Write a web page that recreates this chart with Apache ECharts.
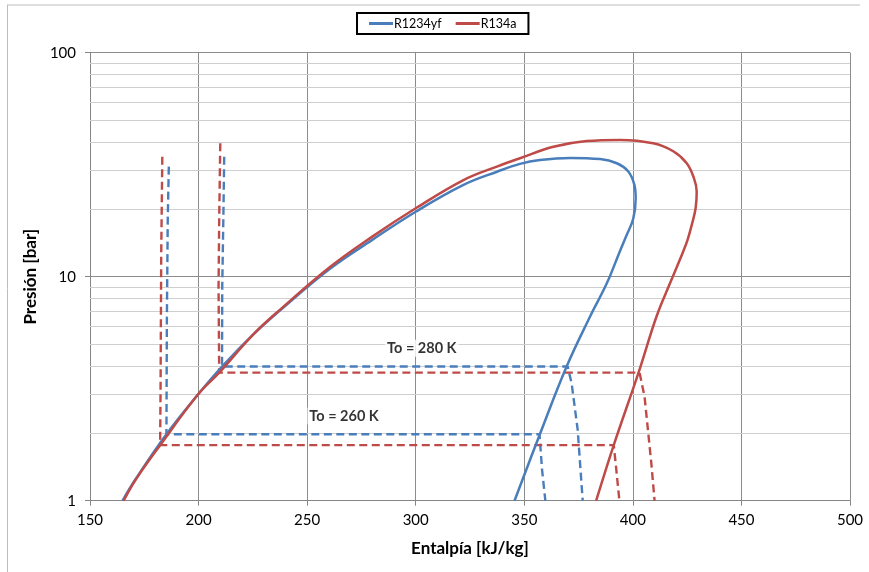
<!DOCTYPE html>
<html><head><meta charset="utf-8">
<script src="https://cdn.jsdelivr.net/npm/echarts@6/dist/echarts.min.js"></script>
<style>html,body{margin:0;padding:0;background:#fff}#c{width:869px;height:572px}</style>
</head><body><div id="c"></div>
<script>
// Saturation domes [enthalpy kJ/kg, pressure bar]
var domeR1234yf = [[165,1],[170.8,1.24],[185.2,1.98],[200,3.0],[210.8,3.97],[225,5.5],[237.7,7.1],[260.8,10.9],[280,14.6],[300,19.5],[322,25.7],[337.7,29.5],[348,31.9],[357.2,33.2],[371.1,33.9],[384.9,33.5],[392.6,32.1],[397.9,29.5],[400.7,25.7],[401.3,22.4],[400.2,18.2],[397.1,15.3],[393.9,12.9],[388,9.34],[380.3,6.64],[369.5,3.97],[357,1.96],[345.5,1]];
var domeR134a = [[165.5,1],[171,1.24],[182.3,1.77],[200,3.0],[209.5,3.73],[225,5.5],[237.7,7.15],[260.8,11.1],[280,15.1],[300,20.2],[322,27.0],[337.7,31.1],[348,33.8],[363.4,38.0],[378.7,40.3],[394.1,40.8],[409.4,39.4],[418.6,36.3],[424.8,32.1],[428.2,27.4],[429.4,24.0],[428.9,20.2],[427.1,17.0],[425.2,14.6],[423.1,12.9],[417.1,9.34],[410.9,6.64],[402.5,3.7],[391.2,1.77],[383.1,1]];
// Cycle lines (dashed)
var yf260 = [[186.3,31],[185.8,17.9],[185.4,6.4],[185.2,1.98],[357,1.98],[358.2,1.37],[359.7,1]];
var a260 = [[183.3,34.3],[182.8,12.7],[182.5,3.2],[182.3,1.77],[391.2,1.77],[392.3,1.4],[393.8,1]];
var yf280 = [[211.8,34.3],[211.4,17.9],[210.9,9],[210.8,3.97],[370,3.97],[371.8,3.34],[374.6,2.07],[376.9,1]];
var a280 = [[210,39.4],[209.5,17.9],[209.2,9],[209.5,3.73],[403.1,3.73],[405.4,2.91],[408.5,1.47],[410,1]];
// Annotations
var notes = [{text:'To = 280 K', coord:[302.8,4.79]},{text:'To = 260 K', coord:[267,2.39]}];
// Axis settings
var xTicks = [150,200,250,300,350,400,450,500];
var minorY = [2,3,4,5,6,7,8,9,20,30,40,50,60,70,80,90];

var FONT = 'Lato, "Open Sans", sans-serif';
var BLUE = '#4A7EBB', RED = '#BE4B48';
var chart = echarts.init(document.getElementById('c'), null, {renderer:'canvas'});
function dashed(name, data, color){
  return {name:name, type:'line', data:data, showSymbol:false, symbol:'none', smooth:false,
    lineStyle:{color:color, width:2.4, type:[8,4.5]}, z:3, silent:true};
}
chart.setOption({
  animation:false,
  backgroundColor:'#fff',
  textStyle:{fontFamily:FONT},
  graphic:[
    {type:'line', shape:{x1:7, y1:5, x2:860, y2:5}, style:{stroke:'#bdbdbd', lineWidth:1}},
    {type:'line', shape:{x1:7.5, y1:5, x2:7.5, y2:572}, style:{stroke:'#bdbdbd', lineWidth:1}}
  ],
  legend:{
    data:['R1234yf','R134a'], left:357, top:13,
    padding:[4,12,4,12], itemGap:14, itemWidth:24, itemHeight:3, icon:'rect',
    borderColor:'#000', borderWidth:2, borderRadius:0,
    textStyle:{fontFamily:FONT, fontSize:12.5, color:'#000', padding:[0,0,0,-4]}
  },
  grid:{left:90, right:19, top:52.7, bottom:71.3, containLabel:false},
  xAxis:{
    type:'value', min:xTicks[0], max:xTicks[xTicks.length-1], interval:50,
    name:'Entalpía [kJ/kg]', nameLocation:'middle', nameGap:39,
    nameTextStyle:{fontFamily:FONT, fontSize:17, fontWeight:'bold', color:'#000'},
    axisLine:{show:true, lineStyle:{color:'#868686', width:1}},
    axisTick:{show:true, length:5, lineStyle:{color:'#868686'}},
    axisLabel:{fontFamily:FONT, fontSize:15, color:'#000', margin:12},
    splitLine:{show:true, lineStyle:{color:'#8c8c8c', width:1}}
  },
  yAxis:{
    type:'log', logBase:10, min:1, max:100,
    name:'Presión [bar]', nameLocation:'middle', nameGap:47, nameRotate:90,
    nameTextStyle:{fontFamily:FONT, fontSize:17, fontWeight:'bold', color:'#000'},
    axisLine:{show:true, lineStyle:{color:'#868686', width:1}},
    axisTick:{show:true, length:5, lineStyle:{color:'#868686'}},
    axisLabel:{fontFamily:FONT, fontSize:15, color:'#000', margin:14},
    splitLine:{show:true, lineStyle:{color:'#8c8c8c', width:1}}
  },
  series:[
    {name:'grid-minor', type:'line', data:[], silent:true, z:1,
      markLine:{silent:true, z:1, symbol:['none','none'], label:{show:false},
        lineStyle:{color:'#cfcfcf', width:1, type:'solid'},
        data:minorY.map(function(v){return {yAxis:v};})}},
    {name:'R1234yf', type:'line', data:domeR1234yf, showSymbol:false, symbol:'none', smooth:0.4,
      lineStyle:{color:BLUE, width:2.5}, itemStyle:{color:BLUE}, z:4, silent:true},
    {name:'R134a', type:'line', data:domeR134a, showSymbol:false, symbol:'none', smooth:0.4,
      lineStyle:{color:RED, width:2.5}, itemStyle:{color:RED}, z:5, silent:true},
    dashed('yf260', yf260, BLUE),
    dashed('a260', a260, RED),
    dashed('yf280', yf280, BLUE),
    dashed('a280', a280, RED),
    {name:'notes', type:'scatter', symbolSize:0, silent:true, z:6,
      data:notes.map(function(n){return {value:n.coord, label:{show:true, formatter:n.text}};}),
      label:{show:true, position:'inside', fontFamily:FONT, fontSize:14.5, fontWeight:'bold', color:'#000',
        backgroundColor:'#fff', padding:[1,2]}}
  ]
});
</script></body></html>
